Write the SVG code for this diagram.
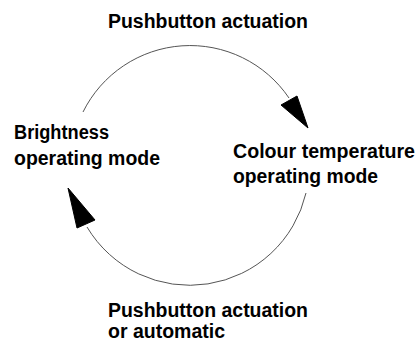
<svg xmlns="http://www.w3.org/2000/svg" width="419" height="342" viewBox="0 0 419 342">
<style>
.t{font-family:"Liberation Sans",Arial,sans-serif;font-weight:bold;font-size:19.5px;fill:#000}
.arc{fill:none;stroke:#555;stroke-width:1}
.head{fill:#000;stroke:#000;stroke-width:1;stroke-linejoin:round}
</style>
<rect width="419" height="342" fill="#fff"/>
<g id="connectors">
<path class="arc" d="M83,112 A119.5,119.5 0 0 1 289,98"/>
<polygon class="head" points="281,105 297,96 308,128"/>
<path class="arc" d="M306,193 A119.5,119.5 0 0 1 87,227"/>
<polygon class="head" points="68,188 77,228 95,220"/>
</g>
<g id="label-top"><text class="t" x="108" y="28" textLength="200" lengthAdjust="spacingAndGlyphs">Pushbutton actuation</text></g>
<g id="node-brightness"><text class="t" x="14" y="139" textLength="95" lengthAdjust="spacingAndGlyphs">Brightness</text><text class="t" x="14" y="165" textLength="146" lengthAdjust="spacingAndGlyphs">operating mode</text></g>
<g id="node-colour"><text class="t" x="233" y="158" textLength="182" lengthAdjust="spacingAndGlyphs">Colour temperature</text><text class="t" x="233" y="183" textLength="145" lengthAdjust="spacingAndGlyphs">operating mode</text></g>
<g id="label-bottom"><text class="t" x="108" y="317" textLength="200" lengthAdjust="spacingAndGlyphs">Pushbutton actuation</text><text class="t" x="108" y="338" textLength="117" lengthAdjust="spacingAndGlyphs">or automatic</text></g>
</svg>
